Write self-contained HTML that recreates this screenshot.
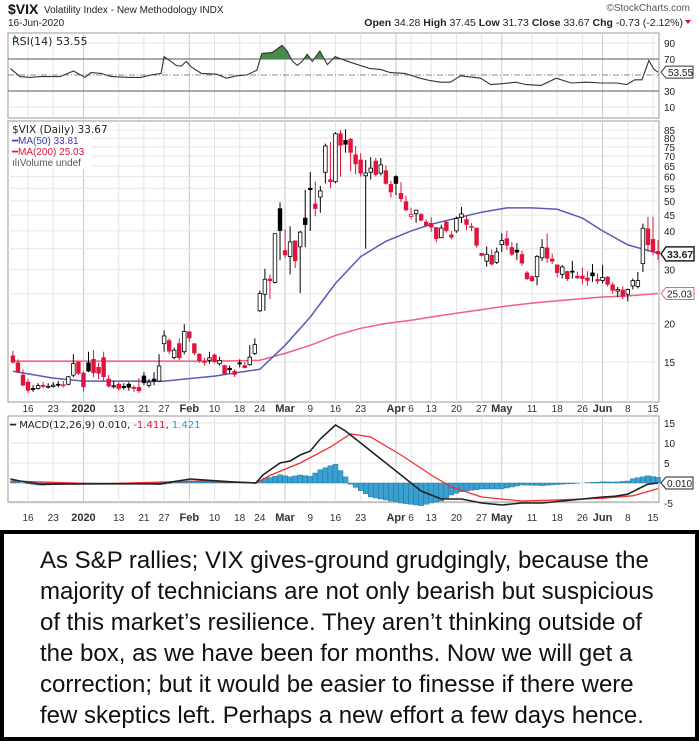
<!DOCTYPE html>
<html><head><meta charset="utf-8">
<style>
html,body{margin:0;padding:0;background:#fff;}
body{width:699px;height:741px;position:relative;overflow:hidden;font-family:"Liberation Sans",sans-serif;}
svg{position:absolute;left:0;top:0;}
#note{position:absolute;left:0;top:530px;width:691px;height:203px;border:4px solid #000;background:#fff;}
#note div{position:absolute;left:36px;white-space:nowrap;font-size:24px;color:#111;line-height:28px;}
</style></head>
<body>
<svg id="chart" width="699" height="530"></svg>
<div id="note">
<div style="top:13px">As S&amp;P rallies; VIX gives-ground grudgingly, because the</div>
<div style="top:44px">majority of technicians are not only bearish but suspicious</div>
<div style="top:75px">of this market’s resilience. They aren’t thinking outside of</div>
<div style="top:106px">the box, as we have been for months. Now we will get a</div>
<div style="top:137px">correction; but it would be easier to finesse if there were</div>
<div style="top:168px">few skeptics left. Perhaps a new effort a few days hence.</div>
</div>
<script>
const closes=[14.99,13.94,12.63,12.14,12.29,12.58,12.50,12.51,12.61,12.67,12.65,13.43,14.82,13.78,12.47,14.02,13.85,13.79,13.45,12.54,12.56,12.32,12.39,12.42,12.32,12.10,12.85,12.91,12.98,14.56,18.23,16.28,16.39,15.49,18.84,17.97,16.05,15.15,14.96,15.47,15.04,15.18,13.74,14.15,13.68,14.83,14.38,15.56,17.08,25.03,27.85,27.56,39.16,40.11,33.42,36.82,31.99,39.62,41.94,54.46,47.30,53.90,75.47,57.83,82.69,75.91,76.45,72.00,66.04,61.59,61.67,63.95,61.00,65.54,57.08,53.54,57.06,50.91,46.80,45.24,46.70,43.35,41.67,41.17,37.76,40.84,40.11,38.15,43.83,45.41,41.98,41.38,35.93,33.29,33.57,31.23,34.15,37.19,35.97,33.61,34.12,31.44,27.98,27.57,33.04,35.28,32.61,31.89,29.30,30.53,27.99,29.53,28.16,28.01,27.62,28.59,27.51,28.23,26.84,25.66,25.81,24.52,25.81,27.57,27.57,40.79,36.09,34.40,33.67];
const opens=[15.7,14.9,13.6,12.9,12.3,12.3,12.6,12.5,12.5,12.7,12.6,12.7,13.6,15.0,13.8,14.9,15.3,14.4,15.5,13.2,12.5,12.7,12.5,12.7,12.4,12.4,13.5,12.6,13.2,13.0,17.2,17.6,15.5,17.2,16.2,18.8,17.2,15.9,15.1,15.2,15.8,14.8,14.6,14.3,14.0,14.9,14.6,14.7,16.0,22.0,24.9,27.9,27.2,47.2,34.5,33.0,37.1,35.5,44.0,55.0,48.9,51.5,62.0,58.6,57.8,82.7,78.6,79.3,70.6,67.9,60.4,62.0,67.4,61.6,62.7,56.6,60.0,52.9,49.7,44.5,45.5,45.2,42.7,42.3,41.0,38.0,42.7,38.8,40.0,44.3,43.5,41.3,40.8,33.8,31.9,33.3,31.6,36.1,37.7,35.3,34.6,33.5,29.2,28.4,28.4,32.7,35.2,32.4,31.0,28.9,29.5,29.6,28.5,28.5,28.1,29.2,27.8,27.6,28.3,26.7,25.5,25.7,24.9,26.5,26.4,31.3,40.6,37.5,34.3];
const highs=[16.3,15.3,14.2,13.2,12.6,12.8,12.9,12.8,12.9,13.0,13.0,13.5,15.9,15.0,14.0,16.2,16.4,14.9,16.2,13.6,13.0,12.9,12.8,12.9,12.6,13.3,13.9,13.2,13.9,15.9,19.0,17.9,16.7,17.9,19.9,18.8,17.2,16.0,15.5,16.2,16.0,15.6,14.7,14.6,14.2,15.3,15.0,17.0,17.9,25.6,30.1,28.9,39.2,49.5,40.5,41.4,37.2,40.0,54.4,62.1,57.8,56.0,76.8,77.6,83.6,84.8,85.5,80.2,75.5,71.5,68.0,69.4,69.0,69.0,65.2,58.2,60.6,57.5,52.0,47.6,46.9,45.7,43.5,44.3,41.0,41.9,43.0,40.0,44.5,47.8,45.0,42.4,41.0,34.0,35.6,34.8,35.3,39.3,40.0,36.8,36.5,34.5,29.6,28.7,33.4,37.6,39.2,33.8,31.0,31.0,29.7,32.0,29.5,30.4,29.6,31.2,29.1,31.0,28.5,27.2,26.3,26.4,26.0,28.0,29.4,42.2,44.4,44.4,37.3];
const lows=[14.8,13.8,12.5,11.9,12.0,12.2,12.3,12.3,12.4,12.4,12.4,12.6,13.4,13.6,12.0,13.9,13.4,13.2,13.0,12.4,12.3,12.1,12.2,12.1,12.0,11.9,12.6,12.4,12.6,12.9,16.2,15.9,15.3,15.2,15.9,17.4,15.8,14.9,14.6,14.8,14.9,14.6,13.7,13.8,13.4,14.4,14.3,14.6,15.8,21.8,22.0,24.0,27.0,32.1,32.6,28.9,30.3,25.1,35.4,40.0,44.6,45.8,57.1,55.0,57.1,60.0,71.8,62.5,61.1,60.0,35.0,58.7,60.0,60.5,56.5,51.3,52.3,49.6,46.3,43.6,42.5,42.9,41.3,39.7,36.7,38.8,39.5,37.6,39.4,42.4,40.2,39.9,35.3,33.0,30.6,30.8,31.2,34.2,34.7,33.1,32.2,30.8,27.7,27.3,26.6,31.9,31.5,31.2,28.3,28.0,27.5,28.0,27.9,26.8,26.5,27.3,26.9,27.0,26.4,25.0,24.4,24.0,23.6,25.8,26.0,29.4,34.2,33.3,32.2];
const maIdx=[0,8,14,30,40,45,49,54,59,64,69,74,79,83,88,93,98,103,108,113,117,122,128];
const ma50=[14.0,13.3,13.0,13.0,13.5,13.9,14.2,17.0,21.0,27.0,33.0,37.0,40.0,42.0,44.0,46.0,47.5,47.5,47.0,44.0,40.0,36.0,33.81];
const ma200=[15.1,15.1,15.1,15.1,15.1,15.15,15.2,16.0,17.0,18.3,19.3,20.0,20.5,21.0,21.6,22.2,22.8,23.3,23.7,24.1,24.4,24.6,25.03];
const rsiIdx=[-0.5,1.4,3.4,5.4,9.4,12.0,14.3,15.5,17.5,19.5,23.4,25.4,27.4,29.4,30.0,32.4,33.4,34.4,35.4,37.4,40.4,42.4,44.4,46.4,48.4,49.4,51.4,53.4,54.4,55.4,56.4,57.4,58.4,59.4,60.9,62.4,63.9,66.9,70.9,72.9,74.9,77.8,80.8,82.8,84.8,86.8,88.8,92.8,94.8,96.8,99.8,101.8,104.8,107.8,110.8,113.8,116.8,119.8,121.8,123.4,124.8,126.2,127.2,128];
const rsiVal=[58,48,47,48,48,55,47,53,52,48,47,47,50,52,73,62,61,67,60,52,51,46,49,50,56,77,78,87,80,68,62,67,76,67,80,63,73,66,58,57,53,52,46,43,41,41,49,46,38,39,41,38,37,46,40,41,40,40,38,44,44,68,57,53.5];
const macdIdx=[-0.5,1.4,5.4,17.3,29.2,35.2,43.2,48.2,49.6,53.0,55.0,57.0,59.0,61.0,64.0,66.0,69.0,73.0,77.0,81.0,85.0,89.0,93.0,97.0,101.0,105.0,113.0,117.0,119.6,122.0,124.0,126.0,128.0];
const macdVal=[1.0,0.5,-0.3,-0.2,-0.2,1.0,0.3,0,2,5,5.5,7,8,11,14.5,13,10,6,2,-2,-4,-4,-5,-5.5,-5,-5,-4,-3.5,-3.3,-2.8,-1.5,-0.3,0.01];
const sigIdx=[-0.5,17.3,37.2,48.2,51.2,57.0,63.0,67.0,71.0,77.0,83.0,87.0,93.0,101.0,109.0,117.0,123.0,128.0];
const sigVal=[0.5,-0.2,0.5,0,2,5,9,12.3,11.5,7,2,-1,-3.5,-4.5,-4.2,-3.8,-3.2,-1.4];
const dateIdx=[3,8,14,21,26,30,35,40,45,49,54,59,64,69,76,79,83,88,93,97,103,108,113,117,122,127];
const dateLbl=["16","23","2020","13","21","27","Feb","10","18","24","Mar","9","16","23","Apr","6","13","20","27","May","11","18","26","Jun","8","15"];
const priceTicks=[15,20,25,30,35,40,45,50,55,60,65,70,75,80,85];
const rsiTicks=[10,30,50,70,90];
const macdTicks=[-5,0,5,10,15];

const NS="http://www.w3.org/2000/svg";
const svg=document.getElementById('chart');
const L=8,R=659;
const X=i=>12.9+i*5.04;
const YP=v=>362-133.7*Math.log(v/15);
const YR=v=>59-(v-70)*0.8;
const YM=v=>483-v*4;
function mk(tag,attrs,parent){const e=document.createElementNS(NS,tag);for(const k in attrs)e.setAttribute(k,attrs[k]);(parent||svg).appendChild(e);return e;}
function txt(x,y,s,attrs){const t=mk('text',Object.assign({x:x,y:y,'font-family':'Liberation Sans, sans-serif','font-size':10,fill:'#222'},attrs||{}));t.textContent=s;return t;}
function interp(xs,ys,i){if(i<=xs[0])return ys[0];for(let k=1;k<xs.length;k++){if(i<=xs[k]){const f=(i-xs[k-1])/(xs[k]-xs[k-1]);return ys[k-1]+f*(ys[k]-ys[k-1]);}}return ys[ys.length-1];}
function pathOf(xs,ys,fy){return xs.map((v,k)=>(k?'L':'M')+X(v).toFixed(1)+' '+fy(ys[k]).toFixed(1)).join(' ');}

let t;
t=txt(8,14,'$VIX',{'font-size':14,'font-weight':'bold',fill:'#111'});


t=txt(44,13,'Volatility Index - New Methodology  INDX',{'font-size':10});


t=txt(8,26,'16-Jun-2020',{'font-size':10});


t=txt(690,11,'©StockCharts.com',{'font-size':10,'text-anchor':'end',fill:'#555'});


t=mk('text',{x:683,y:26,'font-family':'Liberation Sans, sans-serif','font-size':10.5,'text-anchor':'end',fill:'#222'});
t.innerHTML='<tspan font-weight="bold">Open</tspan> 34.28 <tspan font-weight="bold">High</tspan> 37.45 <tspan font-weight="bold">Low</tspan> 31.73 <tspan font-weight="bold">Close</tspan> 33.67 <tspan font-weight="bold">Chg</tspan> -0.73 (-2.12%)';


mk('path',{d:'M685 20 L691 20 L688 24 Z',fill:'#d0103a'});

const panels=[[33,118,'rsi-panel'],[121,402,'price-panel'],[416,502,'macd-panel']];
panels.forEach(p=>{const r=mk('rect',{x:L,y:p[0],width:R-L,height:p[1]-p[0],fill:'#fff',stroke:'#999','stroke-width':1});

});
dateIdx.forEach((d,k)=>{const bold=/[A-Za-z]|2020/.test(dateLbl[k]);
panels.forEach(p=>mk('line',{x1:X(d),x2:X(d),y1:p[0],y2:p[1],stroke:bold?'#c8c8c8':'#e4e4e4','stroke-width':1}));
[412,521].forEach(yy=>{const tl=txt(X(d),yy,dateLbl[k],{'text-anchor':'middle','font-size':bold?11:10,'font-weight':bold?'bold':'normal',fill:'#333'});

});});

rsiTicks.forEach(v=>{const y=YR(v);
if(v===70||v===30)mk('line',{x1:L,x2:R,y1:y,y2:y,stroke:'#777','stroke-width':1.2});
else if(v===50)mk('line',{x1:L,x2:R,y1:y,y2:y,stroke:'#888','stroke-dasharray':'6 2 1 2'});
else mk('line',{x1:L,x2:R,y1:y,y2:y,stroke:'#e4e4e4'});
if(v!==50){const tl=txt(664,y+4,String(v));}});
(function(){let seg=[];for(let i=0;i<rsiIdx.length;i++){if(rsiVal[i]>70)seg.push(i);else if(seg.length){draw(seg);seg=[];}}
function draw(s){const a=s[0]-1,b=s[s.length-1]+1;
const ia=interp([rsiVal[a],rsiVal[a+1]],[rsiIdx[a],rsiIdx[a+1]],70),ib=interp([rsiVal[b],rsiVal[b-1]],[rsiIdx[b],rsiIdx[b-1]],70);
let d='M'+X(ia)+' '+YR(70);s.forEach(k=>d+=' L'+X(rsiIdx[k])+' '+YR(rsiVal[k]));d+=' L'+X(ib)+' '+YR(70)+' Z';
const sh=mk('path',{d:d,fill:'#4a8a4a'});

}})();
let rl=mk('path',{d:pathOf(rsiIdx,rsiVal,YR),fill:'none',stroke:'#333','stroke-width':1.1});


mk('rect',{x:10,y:35,width:70,height:12,fill:'#fff'});
t=txt(12,45,'RSI(14) 53.55',{'font-size':11,'font-family':'DejaVu Sans, sans-serif'});


mk('path',{d:'M12 39 L15 35 L18 39 Z',fill:'#4a8a4a'});
mk('path',{d:'M661 '+YR(53.55)+' l5 -6 h27 v12 h-27 Z',fill:'#fff',stroke:'#333'});
txt(668,YR(53.55)+4,'53.55',{'font-size':10});

priceTicks.forEach(v=>{const y=YP(v);mk('line',{x1:L,x2:R,y1:y,y2:y,stroke:'#e6e6e6'});
if(v!==35){const tl=txt(664,y+4,String(v));}});
let m2=mk('path',{d:pathOf(maIdx,ma200,YP),fill:'none',stroke:'#f06080','stroke-width':1.5});


let m5=mk('path',{d:pathOf(maIdx,ma50,YP),fill:'none',stroke:'#5a5ab8','stroke-width':1.5});


closes.forEach((c,i)=>{const o=opens[i],h=highs[i],lo=lows[i];
const prev=i?closes[i-1]:o;const col=c<prev?'#e0143c':'#000';
const x=X(i);const g=mk('g',{});


mk('line',{x1:x,x2:x,y1:YP(h),y2:YP(lo),stroke:col,'stroke-width':1},g);
const top=YP(Math.max(o,c)),bot=YP(Math.min(o,c));
mk('rect',{x:x-1.8,y:top,width:3.6,height:Math.max(1,bot-top),fill:c>o?'#fff':col,stroke:col,'stroke-width':0.8},g);});
mk('rect',{x:10,y:123,width:82,height:46,fill:'#fff'});
t=txt(12,133,'$VIX (Daily) 33.67',{'font-size':10.5,'font-family':'DejaVu Sans, sans-serif'});


t=txt(12,144,'━MA(50) 33.81',{'font-size':10,fill:'#3a3ab0'});


t=txt(12,155,'━MA(200) 25.03',{'font-size':10,fill:'#e0143c'});


t=txt(12,166,'ılıVolume undef',{'font-size':10,fill:'#555'});


mk('path',{d:'M661 '+YP(33.67)+' l5 -7 h28 v14 h-28 Z',fill:'#fff',stroke:'#222','stroke-width':1.5});
txt(667,YP(33.67)+4,'33.67',{'font-size':10.5,'font-weight':'bold'});
mk('path',{d:'M661 '+YP(25.03)+' l5 -6 h28 v12 h-28 Z',fill:'#fff',stroke:'#f06080'});
txt(667,YP(25.03)+4,'25.03',{'font-size':10});

macdTicks.forEach(v=>{const y=YM(v);mk('line',{x1:L,x2:R,y1:y,y2:y,stroke:'#e6e6e6'});
if(v!==0){const tl=txt(664,y+4,String(v));}});
for(let i=0;i<closes.length;i++){const h=interp(macdIdx,macdVal,i)-interp(sigIdx,sigVal,i);
const y0=YM(0),y1=YM(h);
const b=mk('rect',{x:X(i)-2.5,y:Math.min(y0,y1),width:5,height:Math.abs(y1-y0),fill:'#3aa0d0',stroke:'#1a6a98','stroke-width':0.4});

}
let sl=mk('path',{d:pathOf(sigIdx,sigVal,YM),fill:'none',stroke:'#f03030','stroke-width':1.3});


let ml=mk('path',{d:pathOf(macdIdx,macdVal,YM),fill:'none',stroke:'#222','stroke-width':1.6});


t=mk('text',{x:10,y:428,'font-family':'DejaVu Sans, sans-serif','font-size':10,fill:'#222'});
t.innerHTML='━ MACD(12,26,9) 0.010, <tspan fill="#e0143c">-1.411</tspan>, <tspan fill="#2a9ad0">1.421</tspan>';


mk('path',{d:'M661 '+YM(0.01)+' l5 -6 h27 v12 h-27 Z',fill:'#fff',stroke:'#222'});
txt(667,YM(0.01)+4,'0.010',{'font-size':10});
</script>
</body></html>
